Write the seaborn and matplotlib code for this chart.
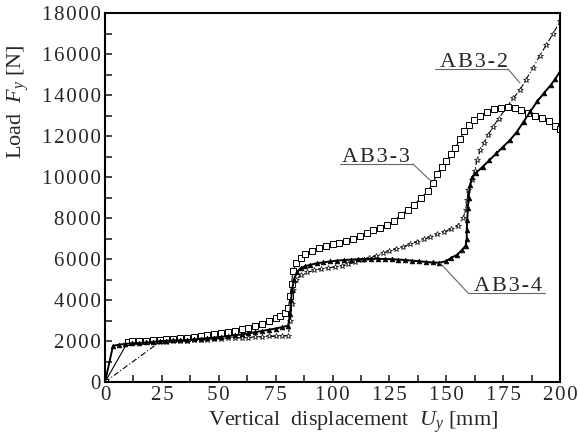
import matplotlib
matplotlib.use("Agg")
import matplotlib.pyplot as plt
import seaborn as sns
import pandas as pd
from matplotlib.ticker import MultipleLocator, FuncFormatter

# ---- data ----
ab33_x = [0, 10, 12, 15, 18, 21, 24, 27, 30, 33, 36, 39, 42, 45, 48, 51, 54, 57, 60, 63,
          66, 69, 72, 75, 77, 79, 80.5, 81.5, 82, 82.6, 84, 86, 88, 91, 94, 97, 100, 103,
          106, 109, 112, 115, 118, 121, 124, 127, 130, 133, 136, 139, 142, 144, 146, 148,
          150, 152, 154, 156, 158, 160, 162, 165, 168, 171, 174, 177, 180, 183, 186, 189,
          192, 195, 198, 200]
ab33_y = [0, 1950, 1980, 2000, 2020, 2040, 2060, 2090, 2110, 2140, 2170, 2200, 2240, 2280,
          2330, 2380, 2440, 2500, 2570, 2650, 2740, 2840, 2960, 3100, 3220, 3380, 3600, 4200,
          4800, 5400, 5800, 6050, 6250, 6400, 6520, 6620, 6720, 6800, 6880, 6980, 7100, 7250,
          7400, 7520, 7650, 7850, 8150, 8400, 8650, 9000, 9300, 9700, 10150, 10500, 10800,
          11100, 11400, 11850, 12250, 12550, 12790, 13000, 13180, 13300, 13370, 13400, 13350,
          13250, 13130, 13000, 12900, 12750, 12500, 12350]

ab34_x = [0, 3.5, 6, 9, 12, 15, 18, 21, 24, 27, 30, 33, 36, 39, 42, 45, 48, 51, 54, 57, 60,
          63, 66, 69, 72, 75, 78, 80.5, 81.3, 81.8, 82.2, 83, 84.4, 86, 88, 90, 93, 96, 99,
          102, 105, 108, 111, 114, 117, 120, 123, 126, 129, 132, 135, 138, 141, 144, 147,
          150, 152, 154.7, 157, 158.5, 159, 159, 159.2, 159.5, 159.8, 160.4, 161.5, 163, 166,
          169, 172, 175, 178, 181, 184, 187, 190, 193, 196, 198, 200]
ab34_y = [0, 1760, 1820, 1860, 1890, 1900, 1930, 1960, 1990, 2010, 2030, 2040, 2050, 2080,
          2110, 2140, 2170, 2200, 2240, 2280, 2320, 2370, 2430, 2490, 2550, 2610, 2680, 2750,
          3300, 4000, 4500, 5000, 5370, 5550, 5650, 5710, 5790, 5840, 5880, 5920, 5950, 5970,
          5990, 6000, 6010, 6010, 6000, 5990, 5970, 5950, 5920, 5890, 5860, 5830, 5820, 5900,
          6050, 6200, 6450, 6650, 7000, 7400, 7900, 8500, 9000, 9600, 10000, 10200, 10500,
          10830, 11150, 11480, 11800, 12200, 12700, 13200, 13700, 14100, 14500, 14800, 15150]

ab32_x = [0, 24, 27, 30, 33, 36, 39, 42, 45, 48, 51, 54, 57, 60, 63, 66, 69, 72, 75, 78,
          80.5, 81.5, 82, 82.6, 84, 86, 89, 92, 95, 98, 101, 104, 107, 110, 113, 116, 119,
          122, 125, 128, 131, 134, 137, 140, 143, 146, 149, 152, 155, 157.4, 158.5, 159.2,
          159.6, 161.3, 162.5, 163.5, 165, 166.5, 168.5, 170.5, 173, 176.7, 179.5, 182.4, 185,
          188, 191, 194, 197, 200]
ab32_y = [0, 1950, 1960, 1980, 2000, 2010, 2030, 2050, 2070, 2090, 2110, 2130, 2140, 2160,
          2170, 2190, 2200, 2220, 2230, 2240, 2260, 3000, 3800, 4500, 5000, 5200, 5350, 5450,
          5520, 5570, 5610, 5680, 5760, 5840, 5940, 6040, 6150, 6280, 6400, 6500, 6600, 6720,
          6850, 6960, 7080, 7200, 7330, 7450, 7620, 8000, 8400, 8900, 9370, 9860, 10300,
          10830, 11300, 11660, 12050, 12440, 12850, 13420, 13850, 14250, 14750, 15300, 15900,
          16450, 17000, 17600]

series_names = ["AB3-2", "AB3-3", "AB3-4"]
x_ticks = [0, 25, 50, 75, 100, 125, 150, 175, 200]
y_ticks = [0, 2000, 4000, 6000, 8000, 10000, 12000, 14000, 16000, 18000]

sns.set_style("ticks")
plt.rcParams["font.family"] = ["Liberation Serif", "DejaVu Serif"]
plt.rcParams["mathtext.fontset"] = "custom"
plt.rcParams["mathtext.rm"] = "Liberation Serif"
plt.rcParams["mathtext.it"] = "Liberation Serif:italic"

HS = "\u200a"


def spaced(s):
    return HS.join(list(s))


fig = plt.figure(figsize=(5.78, 4.34), dpi=100)
ax = fig.add_axes([0.1817, 0.1198, 0.7872, 0.8502])

df32 = pd.DataFrame({"x": ab32_x, "y": ab32_y})
df33 = pd.DataFrame({"x": ab33_x, "y": ab33_y})
df34 = pd.DataFrame({"x": ab34_x, "y": ab34_y})

sns.lineplot(data=df32, x="x", y="y", ax=ax, sort=False, estimator=None, color="black",
             lw=0.8, linestyle=(0, (5, 2, 1, 2)), marker="*", markersize=4.2,
             markerfacecolor="white", markeredgecolor="black", markeredgewidth=0.5)
sns.lineplot(data=df33, x="x", y="y", ax=ax, sort=False, estimator=None, color="black",
             lw=0.8, marker="s", markersize=3.8, markerfacecolor="white",
             markeredgecolor="black", markeredgewidth=0.7)
sns.lineplot(data=df34, x="x", y="y", ax=ax, sort=False, estimator=None, color="black",
             lw=1.4, marker="^", markersize=3.4, markerfacecolor="black",
             markeredgecolor="black", markeredgewidth=0.5)

ax.set_xlim(0, 200)
ax.set_ylim(0, 18000)
ax.set_xticks(x_ticks)
ax.set_yticks(y_ticks)
ax.xaxis.set_minor_locator(MultipleLocator(12.5))
ax.yaxis.set_minor_locator(MultipleLocator(1000))
ax.xaxis.set_major_formatter(FuncFormatter(lambda v, p: spaced(f"{v:g}")))
ax.yaxis.set_major_formatter(FuncFormatter(lambda v, p: spaced(f"{v:g}")))
ax.tick_params(which="both", direction="in", length=5, width=1.2, top=False, right=False,
               labelsize=15, pad=3)
for s in ax.spines.values():
    s.set_linewidth(1.5)
    s.set_color("black")

ax.set_xlabel("Vertical  displacement  $U_y$ [mm]", fontsize=16)
ax.xaxis.set_label_coords(0.545, -0.075)
ax.set_ylabel("Load  $F_y$ [N]", fontsize=16)
ax.yaxis.set_label_coords(-0.163, 0.76)

gray = "#666666"
ann = [("AB3-2", 162, 15370, (145, 177.1), 15270, (177.1, 182.4), (15270, 14590)),
       ("AB3-3", 119.3, 10750, (103.3, 135.4), 10630, (135.4, 143.7), (10630, 9760)),
       ("AB3-4", 177.1, 4440, (159.6, 193.4), 4340, (159.6, 147.3), (4340, 5800))]
for name, tx, ty, (ux0, ux1), uy, lx, ly in ann:
    ax.text(tx, ty, spaced(name), fontsize=16, ha="center", va="baseline")
    ax.plot([ux0, ux1], [uy, uy], color=gray, lw=0.8)
    ax.plot(lx, ly, color=gray, lw=0.8)

fig.savefig("out.png", dpi=100)
